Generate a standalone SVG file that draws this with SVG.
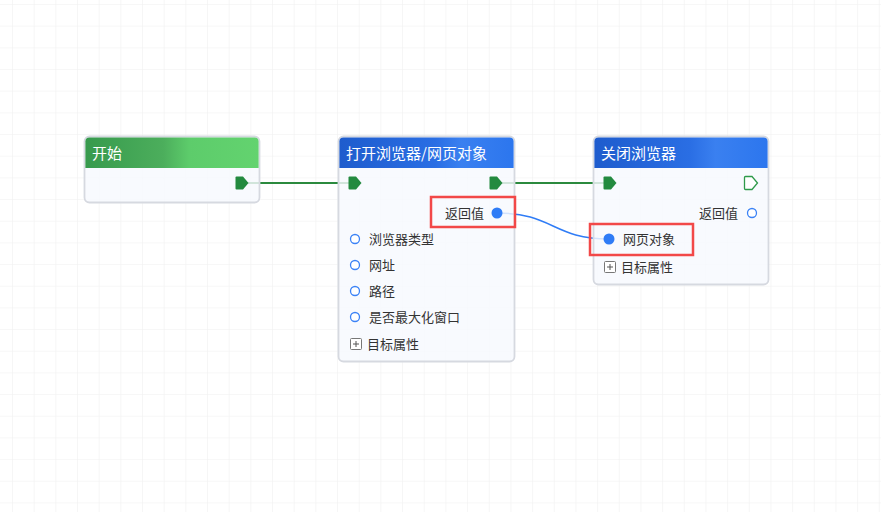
<svg xmlns="http://www.w3.org/2000/svg" xmlns:xlink="http://www.w3.org/1999/xlink" width="881" height="512" viewBox="0 0 881 512">
<defs>
<pattern id="grid" x="12" y="4" width="21.67" height="21.67" patternUnits="userSpaceOnUse">
<path d="M0,0 H21.67 M0,0 V21.67" fill="none" stroke="#f0f0f0" stroke-width="1.2"/>
</pattern>
<linearGradient id="gGreen" x1="0" y1="0" x2="1" y2="0">
<stop offset="0" stop-color="#379a4d"/>
<stop offset="0.45" stop-color="#4cae5c"/>
<stop offset="0.6" stop-color="#5dcc6b"/>
<stop offset="1" stop-color="#63d36f"/>
</linearGradient>
<linearGradient id="gBlue" x1="0" y1="0" x2="1" y2="0">
<stop offset="0" stop-color="#1e5ccd"/>
<stop offset="0.55" stop-color="#2a6ee4"/>
<stop offset="0.7" stop-color="#3a80f0"/>
<stop offset="1" stop-color="#2c76ee"/>
</linearGradient>
<path id="port" d="M-5.5,-6.5 H1 L6.5,0 L1,6.5 H-5.5 Q-6.5,6.5 -6.5,5.5 V-5.5 Q-6.5,-6.5 -5.5,-6.5 Z"/>
<g id="plus">
<rect x="0.5" y="0.5" width="11" height="11" rx="1" fill="#fff" stroke="#777" stroke-width="1"/>
<path d="M3,6 H9 M6,3 V9" stroke="#555" stroke-width="1"/>
</g>
</defs>
<style>
.card{fill:#f7f9fe;fill-opacity:0.82;stroke:#d6d9e0;stroke-width:1.8}
.title{font-family:"Noto Sans CJK SC","Noto Sans",sans-serif;font-size:15px;fill:#ffffff}
.lbl{font-family:"Noto Sans CJK SC","Noto Sans",sans-serif;font-size:13px;fill:#333333}
.flow{fill:none;stroke:#2b8a3e;stroke-width:2}
.data{fill:none;stroke:#2f7cf6;stroke-width:1.5}
.pin{fill:#ffffff;stroke:#3b82f6;stroke-width:1.3}
.pinf{fill:#2f7cf6}
.pf{fill:#238a3f}
.po{fill:#ffffff;stroke:#2e9a4a;stroke-width:1.3}
.hl{fill:none;stroke:#f24848;stroke-width:2.5}
</style>
<rect width="881" height="512" fill="#ffffff"/>
<rect width="881" height="512" fill="url(#grid)"/>

<g id="connectors">
<path class="flow" d="M242,183 H355"/>
<path class="flow" d="M496,183 H610"/>
<path class="data" d="M497,213 C553,213 553,239 609,239"/>
</g>

<g id="node-start">
<rect class="card" x="84.5" y="136.5" width="175" height="66" rx="5"/>
<path d="M85.4,168 V141.5 Q85.4,137.4 89.5,137.4 H254.5 Q258.6,137.4 258.6,141.5 V168 Z" fill="url(#gGreen)"/>
<text class="title" x="92" y="158.5">开始</text>
<use xlink:href="#port" class="pf" x="242" y="183"/>
</g>

<g id="node-open">
<rect class="card" x="338.5" y="136.5" width="176" height="225" rx="5"/>
<path d="M339.4,168 V141.5 Q339.4,137.4 343.5,137.4 H509.5 Q513.6,137.4 513.6,141.5 V168 Z" fill="url(#gBlue)"/>
<text class="title" x="346" y="158.5">打开浏览器/网页对象</text>
<use xlink:href="#port" class="pf" x="355" y="183"/>
<use xlink:href="#port" class="pf" x="496" y="183"/>
<text class="lbl" x="484" y="217.5" text-anchor="end">返回值</text>
<circle class="pinf" cx="497" cy="213" r="5.5"/>
<circle class="pin" cx="355" cy="239" r="4.5"/>
<text class="lbl" x="369" y="243.5">浏览器类型</text>
<circle class="pin" cx="355" cy="265" r="4.5"/>
<text class="lbl" x="369" y="269.5">网址</text>
<circle class="pin" cx="355" cy="291" r="4.5"/>
<text class="lbl" x="369" y="295.5">路径</text>
<circle class="pin" cx="355" cy="317" r="4.5"/>
<text class="lbl" x="369" y="321.5">是否最大化窗口</text>
<use xlink:href="#plus" x="350" y="338"/>
<text class="lbl" x="367" y="349">目标属性</text>
</g>

<g id="node-close">
<rect class="card" x="593.5" y="136.5" width="175" height="148" rx="5"/>
<path d="M594.4,168 V141.5 Q594.4,137.4 598.5,137.4 H763.5 Q767.6,137.4 767.6,141.5 V168 Z" fill="url(#gBlue)"/>
<text class="title" x="601" y="158.5">关闭浏览器</text>
<use xlink:href="#port" class="pf" x="610" y="183"/>
<use xlink:href="#port" class="po" x="751" y="183"/>
<text class="lbl" x="738" y="217.5" text-anchor="end">返回值</text>
<circle class="pin" cx="752" cy="213" r="4.5"/>
<circle class="pinf" cx="609" cy="239" r="5.5"/>
<text class="lbl" x="623" y="243.5">网页对象</text>
<use xlink:href="#plus" x="604" y="261"/>
<text class="lbl" x="621" y="272">目标属性</text>
</g>

<g id="highlights">
<rect class="hl" x="431" y="197" width="84" height="30"/>
<rect class="hl" x="590" y="224" width="103" height="31"/>
</g>
</svg>
